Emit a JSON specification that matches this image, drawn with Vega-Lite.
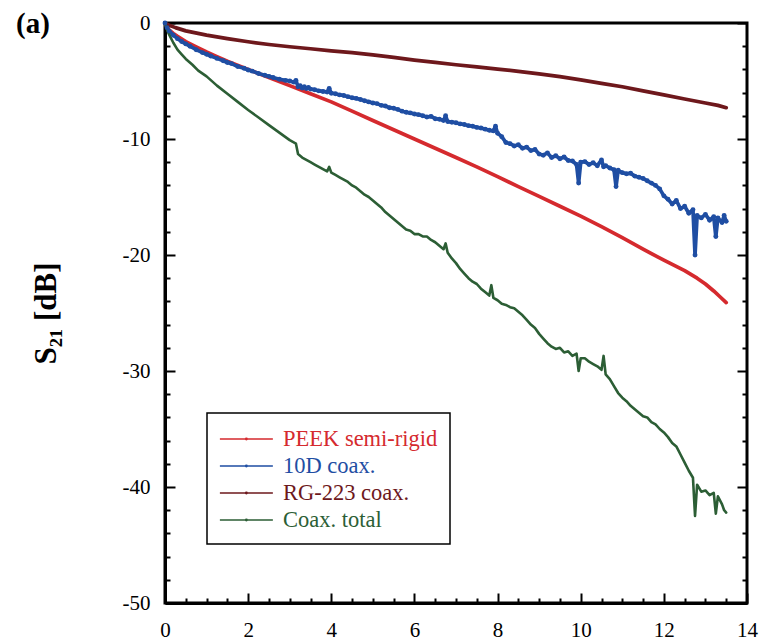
{
  "$schema": "https://vega.github.io/schema/vega-lite/v6.json",
  "width": 582,
  "height": 580,
  "autosize": "none",
  "padding": {"left": 165, "top": 23, "right": 17, "bottom": 38},
  "background": "white",
  "title": {"text": "(a)", "anchor": "start", "frame": "group", "dx": -149, "dy": 50, "offset": 0, "baseline": "alphabetic", "font": "Liberation Serif", "fontSize": 29, "fontWeight": "bold", "color": "black"},
  "config": {
    "view": {"stroke": "black", "strokeWidth": 3},
    "axis": {"labelFont": "Liberation Serif", "labelFontSize": 21, "labelColor": "black", "tickColor": "black", "domainColor": "black", "grid": false, "titleFont": "Liberation Serif", "titleColor": "black"}
  },
  "datasets": {
    "curves": [
      {"s": "PEEK semi-rigid", "x": 0, "y": 0},
      {"s": "PEEK semi-rigid", "x": 0.05, "y": -0.35},
      {"s": "PEEK semi-rigid", "x": 0.1, "y": -0.6},
      {"s": "PEEK semi-rigid", "x": 0.2, "y": -0.9},
      {"s": "PEEK semi-rigid", "x": 0.3, "y": -1.15},
      {"s": "PEEK semi-rigid", "x": 0.5, "y": -1.6},
      {"s": "PEEK semi-rigid", "x": 0.75, "y": -2.05},
      {"s": "PEEK semi-rigid", "x": 1, "y": -2.5},
      {"s": "PEEK semi-rigid", "x": 1.25, "y": -2.9},
      {"s": "PEEK semi-rigid", "x": 1.5, "y": -3.3},
      {"s": "PEEK semi-rigid", "x": 2, "y": -4.0},
      {"s": "PEEK semi-rigid", "x": 2.5, "y": -4.7},
      {"s": "PEEK semi-rigid", "x": 3, "y": -5.4},
      {"s": "PEEK semi-rigid", "x": 3.5, "y": -6.1},
      {"s": "PEEK semi-rigid", "x": 4, "y": -6.8},
      {"s": "PEEK semi-rigid", "x": 4.5, "y": -7.6},
      {"s": "PEEK semi-rigid", "x": 5, "y": -8.4},
      {"s": "PEEK semi-rigid", "x": 5.5, "y": -9.2},
      {"s": "PEEK semi-rigid", "x": 6, "y": -10.0},
      {"s": "PEEK semi-rigid", "x": 6.5, "y": -10.8},
      {"s": "PEEK semi-rigid", "x": 7, "y": -11.6},
      {"s": "PEEK semi-rigid", "x": 7.5, "y": -12.4},
      {"s": "PEEK semi-rigid", "x": 8, "y": -13.25},
      {"s": "PEEK semi-rigid", "x": 8.5, "y": -14.1},
      {"s": "PEEK semi-rigid", "x": 9, "y": -14.95},
      {"s": "PEEK semi-rigid", "x": 9.5, "y": -15.8},
      {"s": "PEEK semi-rigid", "x": 10, "y": -16.65},
      {"s": "PEEK semi-rigid", "x": 10.5, "y": -17.55},
      {"s": "PEEK semi-rigid", "x": 11, "y": -18.5},
      {"s": "PEEK semi-rigid", "x": 11.5, "y": -19.5},
      {"s": "PEEK semi-rigid", "x": 12, "y": -20.45},
      {"s": "PEEK semi-rigid", "x": 12.5, "y": -21.35},
      {"s": "PEEK semi-rigid", "x": 12.8, "y": -22.0},
      {"s": "PEEK semi-rigid", "x": 13, "y": -22.5},
      {"s": "PEEK semi-rigid", "x": 13.2, "y": -23.1},
      {"s": "PEEK semi-rigid", "x": 13.35, "y": -23.6},
      {"s": "PEEK semi-rigid", "x": 13.5, "y": -24.1},

      {"s": "10D coax.", "x": 0, "y": 0},
      {"s": "10D coax.", "x": 0.05, "y": -0.4},
      {"s": "10D coax.", "x": 0.1, "y": -0.7},
      {"s": "10D coax.", "x": 0.2, "y": -1.05},
      {"s": "10D coax.", "x": 0.3, "y": -1.35},
      {"s": "10D coax.", "x": 0.4, "y": -1.6},
      {"s": "10D coax.", "x": 0.5, "y": -1.8},
      {"s": "10D coax.", "x": 0.6, "y": -2.0},
      {"s": "10D coax.", "x": 0.75, "y": -2.3},
      {"s": "10D coax.", "x": 0.9, "y": -2.55},
      {"s": "10D coax.", "x": 1, "y": -2.7},
      {"s": "10D coax.", "x": 1.1, "y": -2.85},
      {"s": "10D coax.", "x": 1.25, "y": -3.05},
      {"s": "10D coax.", "x": 1.4, "y": -3.25},
      {"s": "10D coax.", "x": 1.5, "y": -3.4},
      {"s": "10D coax.", "x": 1.6, "y": -3.5},
      {"s": "10D coax.", "x": 1.75, "y": -3.75},
      {"s": "10D coax.", "x": 1.9, "y": -3.9},
      {"s": "10D coax.", "x": 2, "y": -4.05},
      {"s": "10D coax.", "x": 2.1, "y": -4.15},
      {"s": "10D coax.", "x": 2.25, "y": -4.35},
      {"s": "10D coax.", "x": 2.4, "y": -4.5},
      {"s": "10D coax.", "x": 2.5, "y": -4.6},
      {"s": "10D coax.", "x": 2.6, "y": -4.7},
      {"s": "10D coax.", "x": 2.75, "y": -4.85},
      {"s": "10D coax.", "x": 2.9, "y": -4.95},
      {"s": "10D coax.", "x": 3.0, "y": -5.0},
      {"s": "10D coax.", "x": 3.1, "y": -5.1},
      {"s": "10D coax.", "x": 3.15, "y": -4.95},
      {"s": "10D coax.", "x": 3.2, "y": -5.5},
      {"s": "10D coax.", "x": 3.25, "y": -5.4},
      {"s": "10D coax.", "x": 3.3, "y": -5.6},
      {"s": "10D coax.", "x": 3.35, "y": -5.5},
      {"s": "10D coax.", "x": 3.4, "y": -5.65},
      {"s": "10D coax.", "x": 3.45, "y": -5.55},
      {"s": "10D coax.", "x": 3.5, "y": -5.7},
      {"s": "10D coax.", "x": 3.6, "y": -5.75},
      {"s": "10D coax.", "x": 3.7, "y": -5.85},
      {"s": "10D coax.", "x": 3.8, "y": -5.9},
      {"s": "10D coax.", "x": 3.9, "y": -5.95},
      {"s": "10D coax.", "x": 3.95, "y": -5.65},
      {"s": "10D coax.", "x": 4.0, "y": -6.05},
      {"s": "10D coax.", "x": 4.1, "y": -6.1},
      {"s": "10D coax.", "x": 4.2, "y": -6.2},
      {"s": "10D coax.", "x": 4.3, "y": -6.25},
      {"s": "10D coax.", "x": 4.4, "y": -6.35},
      {"s": "10D coax.", "x": 4.5, "y": -6.45},
      {"s": "10D coax.", "x": 4.6, "y": -6.5},
      {"s": "10D coax.", "x": 4.7, "y": -6.6},
      {"s": "10D coax.", "x": 4.8, "y": -6.7},
      {"s": "10D coax.", "x": 4.9, "y": -6.8},
      {"s": "10D coax.", "x": 5.0, "y": -6.9},
      {"s": "10D coax.", "x": 5.1, "y": -6.95},
      {"s": "10D coax.", "x": 5.2, "y": -7.1},
      {"s": "10D coax.", "x": 5.3, "y": -7.15},
      {"s": "10D coax.", "x": 5.4, "y": -7.3},
      {"s": "10D coax.", "x": 5.5, "y": -7.35},
      {"s": "10D coax.", "x": 5.6, "y": -7.45},
      {"s": "10D coax.", "x": 5.7, "y": -7.6},
      {"s": "10D coax.", "x": 5.8, "y": -7.7},
      {"s": "10D coax.", "x": 5.9, "y": -7.75},
      {"s": "10D coax.", "x": 6.0, "y": -7.85},
      {"s": "10D coax.", "x": 6.1, "y": -7.9},
      {"s": "10D coax.", "x": 6.2, "y": -8.0},
      {"s": "10D coax.", "x": 6.3, "y": -8.1},
      {"s": "10D coax.", "x": 6.4, "y": -8.05},
      {"s": "10D coax.", "x": 6.5, "y": -8.25},
      {"s": "10D coax.", "x": 6.6, "y": -8.3},
      {"s": "10D coax.", "x": 6.7, "y": -8.4},
      {"s": "10D coax.", "x": 6.75, "y": -8.0},
      {"s": "10D coax.", "x": 6.8, "y": -8.5},
      {"s": "10D coax.", "x": 6.9, "y": -8.55},
      {"s": "10D coax.", "x": 7.0, "y": -8.6},
      {"s": "10D coax.", "x": 7.1, "y": -8.7},
      {"s": "10D coax.", "x": 7.2, "y": -8.75},
      {"s": "10D coax.", "x": 7.3, "y": -8.85},
      {"s": "10D coax.", "x": 7.4, "y": -8.9},
      {"s": "10D coax.", "x": 7.5, "y": -9.0},
      {"s": "10D coax.", "x": 7.6, "y": -9.05},
      {"s": "10D coax.", "x": 7.7, "y": -9.15},
      {"s": "10D coax.", "x": 7.8, "y": -9.25},
      {"s": "10D coax.", "x": 7.9, "y": -9.3},
      {"s": "10D coax.", "x": 7.95, "y": -8.9},
      {"s": "10D coax.", "x": 8.0, "y": -9.5},
      {"s": "10D coax.", "x": 8.1, "y": -9.8},
      {"s": "10D coax.", "x": 8.2, "y": -10.3},
      {"s": "10D coax.", "x": 8.3, "y": -10.4},
      {"s": "10D coax.", "x": 8.4, "y": -10.6},
      {"s": "10D coax.", "x": 8.5, "y": -10.5},
      {"s": "10D coax.", "x": 8.6, "y": -10.8},
      {"s": "10D coax.", "x": 8.7, "y": -10.7},
      {"s": "10D coax.", "x": 8.8, "y": -11.0},
      {"s": "10D coax.", "x": 8.9, "y": -10.9},
      {"s": "10D coax.", "x": 9.0, "y": -11.3},
      {"s": "10D coax.", "x": 9.1, "y": -11.4},
      {"s": "10D coax.", "x": 9.2, "y": -11.2},
      {"s": "10D coax.", "x": 9.3, "y": -11.6},
      {"s": "10D coax.", "x": 9.4, "y": -11.45},
      {"s": "10D coax.", "x": 9.5, "y": -11.7},
      {"s": "10D coax.", "x": 9.6, "y": -11.55},
      {"s": "10D coax.", "x": 9.7, "y": -11.85},
      {"s": "10D coax.", "x": 9.8, "y": -11.9},
      {"s": "10D coax.", "x": 9.9, "y": -12.2},
      {"s": "10D coax.", "x": 9.95, "y": -13.8},
      {"s": "10D coax.", "x": 10.0, "y": -12.0},
      {"s": "10D coax.", "x": 10.1, "y": -11.95},
      {"s": "10D coax.", "x": 10.2, "y": -12.2},
      {"s": "10D coax.", "x": 10.3, "y": -12.05},
      {"s": "10D coax.", "x": 10.4, "y": -12.3},
      {"s": "10D coax.", "x": 10.5, "y": -11.8},
      {"s": "10D coax.", "x": 10.55, "y": -12.4},
      {"s": "10D coax.", "x": 10.6, "y": -12.3},
      {"s": "10D coax.", "x": 10.7, "y": -12.5},
      {"s": "10D coax.", "x": 10.8, "y": -12.65},
      {"s": "10D coax.", "x": 10.85, "y": -14.1},
      {"s": "10D coax.", "x": 10.9, "y": -12.7},
      {"s": "10D coax.", "x": 11.0, "y": -12.9},
      {"s": "10D coax.", "x": 11.1, "y": -13.0},
      {"s": "10D coax.", "x": 11.2, "y": -12.95},
      {"s": "10D coax.", "x": 11.3, "y": -13.2},
      {"s": "10D coax.", "x": 11.4, "y": -13.3},
      {"s": "10D coax.", "x": 11.5, "y": -13.4},
      {"s": "10D coax.", "x": 11.6, "y": -13.6},
      {"s": "10D coax.", "x": 11.7, "y": -13.8},
      {"s": "10D coax.", "x": 11.8, "y": -14.0},
      {"s": "10D coax.", "x": 11.9, "y": -14.3},
      {"s": "10D coax.", "x": 12.0, "y": -14.9},
      {"s": "10D coax.", "x": 12.1, "y": -15.2},
      {"s": "10D coax.", "x": 12.2, "y": -15.6},
      {"s": "10D coax.", "x": 12.3, "y": -15.3},
      {"s": "10D coax.", "x": 12.4, "y": -16.0},
      {"s": "10D coax.", "x": 12.5, "y": -15.8},
      {"s": "10D coax.", "x": 12.6, "y": -16.4},
      {"s": "10D coax.", "x": 12.7, "y": -16.1},
      {"s": "10D coax.", "x": 12.75, "y": -20.0},
      {"s": "10D coax.", "x": 12.8, "y": -16.6},
      {"s": "10D coax.", "x": 12.9, "y": -16.8},
      {"s": "10D coax.", "x": 13.0, "y": -16.5},
      {"s": "10D coax.", "x": 13.1, "y": -17.0},
      {"s": "10D coax.", "x": 13.2, "y": -16.7},
      {"s": "10D coax.", "x": 13.25, "y": -18.4},
      {"s": "10D coax.", "x": 13.3, "y": -16.8},
      {"s": "10D coax.", "x": 13.4, "y": -17.2},
      {"s": "10D coax.", "x": 13.45, "y": -16.6},
      {"s": "10D coax.", "x": 13.5, "y": -17.1},

      {"s": "RG-223 coax.", "x": 0, "y": 0},
      {"s": "RG-223 coax.", "x": 0.1, "y": -0.2},
      {"s": "RG-223 coax.", "x": 0.25, "y": -0.4},
      {"s": "RG-223 coax.", "x": 0.5, "y": -0.68},
      {"s": "RG-223 coax.", "x": 1, "y": -1.05},
      {"s": "RG-223 coax.", "x": 1.5, "y": -1.35},
      {"s": "RG-223 coax.", "x": 2, "y": -1.62},
      {"s": "RG-223 coax.", "x": 2.5, "y": -1.85},
      {"s": "RG-223 coax.", "x": 3, "y": -2.05},
      {"s": "RG-223 coax.", "x": 3.5, "y": -2.22},
      {"s": "RG-223 coax.", "x": 4, "y": -2.4},
      {"s": "RG-223 coax.", "x": 4.5, "y": -2.55},
      {"s": "RG-223 coax.", "x": 5, "y": -2.75},
      {"s": "RG-223 coax.", "x": 5.5, "y": -2.97},
      {"s": "RG-223 coax.", "x": 6, "y": -3.2},
      {"s": "RG-223 coax.", "x": 6.5, "y": -3.4},
      {"s": "RG-223 coax.", "x": 7, "y": -3.6},
      {"s": "RG-223 coax.", "x": 7.5, "y": -3.78},
      {"s": "RG-223 coax.", "x": 8, "y": -3.97},
      {"s": "RG-223 coax.", "x": 8.5, "y": -4.17},
      {"s": "RG-223 coax.", "x": 9, "y": -4.38},
      {"s": "RG-223 coax.", "x": 9.5, "y": -4.62},
      {"s": "RG-223 coax.", "x": 10, "y": -4.9},
      {"s": "RG-223 coax.", "x": 10.5, "y": -5.2},
      {"s": "RG-223 coax.", "x": 11, "y": -5.5},
      {"s": "RG-223 coax.", "x": 11.5, "y": -5.85},
      {"s": "RG-223 coax.", "x": 12, "y": -6.2},
      {"s": "RG-223 coax.", "x": 12.5, "y": -6.55},
      {"s": "RG-223 coax.", "x": 13, "y": -6.9},
      {"s": "RG-223 coax.", "x": 13.3, "y": -7.1},
      {"s": "RG-223 coax.", "x": 13.5, "y": -7.3},

      {"s": "Coax. total", "x": 0, "y": 0},
      {"s": "Coax. total", "x": 0.05, "y": -0.6},
      {"s": "Coax. total", "x": 0.1, "y": -1.0},
      {"s": "Coax. total", "x": 0.2, "y": -1.7},
      {"s": "Coax. total", "x": 0.3, "y": -2.3},
      {"s": "Coax. total", "x": 0.4, "y": -2.7},
      {"s": "Coax. total", "x": 0.5, "y": -3.1},
      {"s": "Coax. total", "x": 0.66, "y": -3.6},
      {"s": "Coax. total", "x": 0.8, "y": -4.1},
      {"s": "Coax. total", "x": 1.0, "y": -4.6},
      {"s": "Coax. total", "x": 1.25, "y": -5.4},
      {"s": "Coax. total", "x": 1.5, "y": -6.1},
      {"s": "Coax. total", "x": 1.75, "y": -6.8},
      {"s": "Coax. total", "x": 2.0, "y": -7.5},
      {"s": "Coax. total", "x": 2.25, "y": -8.15},
      {"s": "Coax. total", "x": 2.5, "y": -8.8},
      {"s": "Coax. total", "x": 2.75, "y": -9.45},
      {"s": "Coax. total", "x": 3.0, "y": -10.1},
      {"s": "Coax. total", "x": 3.15, "y": -10.4},
      {"s": "Coax. total", "x": 3.2, "y": -11.3},
      {"s": "Coax. total", "x": 3.3, "y": -11.6},
      {"s": "Coax. total", "x": 3.4, "y": -11.8},
      {"s": "Coax. total", "x": 3.5, "y": -12.0},
      {"s": "Coax. total", "x": 3.6, "y": -12.2},
      {"s": "Coax. total", "x": 3.7, "y": -12.4},
      {"s": "Coax. total", "x": 3.8, "y": -12.6},
      {"s": "Coax. total", "x": 3.9, "y": -12.8},
      {"s": "Coax. total", "x": 3.95, "y": -12.4},
      {"s": "Coax. total", "x": 4.0, "y": -12.9},
      {"s": "Coax. total", "x": 4.1, "y": -13.1},
      {"s": "Coax. total", "x": 4.2, "y": -13.3},
      {"s": "Coax. total", "x": 4.3, "y": -13.5},
      {"s": "Coax. total", "x": 4.4, "y": -13.7},
      {"s": "Coax. total", "x": 4.5, "y": -14.0},
      {"s": "Coax. total", "x": 4.6, "y": -14.2},
      {"s": "Coax. total", "x": 4.7, "y": -14.5},
      {"s": "Coax. total", "x": 4.8, "y": -14.8},
      {"s": "Coax. total", "x": 4.9, "y": -15.0},
      {"s": "Coax. total", "x": 5.0, "y": -15.3},
      {"s": "Coax. total", "x": 5.1, "y": -15.6},
      {"s": "Coax. total", "x": 5.2, "y": -15.9},
      {"s": "Coax. total", "x": 5.3, "y": -16.3},
      {"s": "Coax. total", "x": 5.4, "y": -16.6},
      {"s": "Coax. total", "x": 5.5, "y": -16.9},
      {"s": "Coax. total", "x": 5.6, "y": -17.2},
      {"s": "Coax. total", "x": 5.7, "y": -17.5},
      {"s": "Coax. total", "x": 5.8, "y": -17.8},
      {"s": "Coax. total", "x": 5.9, "y": -17.9},
      {"s": "Coax. total", "x": 6.0, "y": -18.2},
      {"s": "Coax. total", "x": 6.1, "y": -18.2},
      {"s": "Coax. total", "x": 6.2, "y": -18.4},
      {"s": "Coax. total", "x": 6.3, "y": -18.4},
      {"s": "Coax. total", "x": 6.4, "y": -18.7},
      {"s": "Coax. total", "x": 6.5, "y": -18.9},
      {"s": "Coax. total", "x": 6.6, "y": -19.2},
      {"s": "Coax. total", "x": 6.7, "y": -19.5},
      {"s": "Coax. total", "x": 6.75, "y": -19.0},
      {"s": "Coax. total", "x": 6.8, "y": -19.8},
      {"s": "Coax. total", "x": 6.9, "y": -20.3},
      {"s": "Coax. total", "x": 7.0, "y": -20.7},
      {"s": "Coax. total", "x": 7.1, "y": -21.2},
      {"s": "Coax. total", "x": 7.2, "y": -21.6},
      {"s": "Coax. total", "x": 7.3, "y": -22.0},
      {"s": "Coax. total", "x": 7.4, "y": -22.3},
      {"s": "Coax. total", "x": 7.5, "y": -22.5},
      {"s": "Coax. total", "x": 7.6, "y": -22.9},
      {"s": "Coax. total", "x": 7.7, "y": -23.2},
      {"s": "Coax. total", "x": 7.8, "y": -23.5},
      {"s": "Coax. total", "x": 7.85, "y": -22.6},
      {"s": "Coax. total", "x": 7.9, "y": -23.7},
      {"s": "Coax. total", "x": 8.0, "y": -23.9},
      {"s": "Coax. total", "x": 8.1, "y": -24.2},
      {"s": "Coax. total", "x": 8.2, "y": -24.3},
      {"s": "Coax. total", "x": 8.3, "y": -24.5},
      {"s": "Coax. total", "x": 8.4, "y": -24.6},
      {"s": "Coax. total", "x": 8.5, "y": -24.9},
      {"s": "Coax. total", "x": 8.6, "y": -25.2},
      {"s": "Coax. total", "x": 8.7, "y": -25.6},
      {"s": "Coax. total", "x": 8.8, "y": -26.0},
      {"s": "Coax. total", "x": 8.9, "y": -26.3},
      {"s": "Coax. total", "x": 9.0, "y": -26.8},
      {"s": "Coax. total", "x": 9.1, "y": -27.2},
      {"s": "Coax. total", "x": 9.2, "y": -27.6},
      {"s": "Coax. total", "x": 9.3, "y": -27.9},
      {"s": "Coax. total", "x": 9.4, "y": -28.1},
      {"s": "Coax. total", "x": 9.5, "y": -28.0},
      {"s": "Coax. total", "x": 9.6, "y": -28.4},
      {"s": "Coax. total", "x": 9.7, "y": -28.3},
      {"s": "Coax. total", "x": 9.8, "y": -28.7},
      {"s": "Coax. total", "x": 9.9, "y": -28.5},
      {"s": "Coax. total", "x": 9.95, "y": -30.0},
      {"s": "Coax. total", "x": 10.0, "y": -28.9},
      {"s": "Coax. total", "x": 10.1, "y": -28.9},
      {"s": "Coax. total", "x": 10.2, "y": -29.2},
      {"s": "Coax. total", "x": 10.3, "y": -29.4},
      {"s": "Coax. total", "x": 10.4, "y": -29.6},
      {"s": "Coax. total", "x": 10.5, "y": -29.9},
      {"s": "Coax. total", "x": 10.55, "y": -28.7},
      {"s": "Coax. total", "x": 10.6, "y": -30.3},
      {"s": "Coax. total", "x": 10.7, "y": -30.7},
      {"s": "Coax. total", "x": 10.8, "y": -31.3},
      {"s": "Coax. total", "x": 10.9, "y": -31.9},
      {"s": "Coax. total", "x": 11.0, "y": -32.3},
      {"s": "Coax. total", "x": 11.1, "y": -32.6},
      {"s": "Coax. total", "x": 11.2, "y": -33.0},
      {"s": "Coax. total", "x": 11.3, "y": -33.3},
      {"s": "Coax. total", "x": 11.4, "y": -33.6},
      {"s": "Coax. total", "x": 11.5, "y": -33.9},
      {"s": "Coax. total", "x": 11.6, "y": -34.0},
      {"s": "Coax. total", "x": 11.7, "y": -34.4},
      {"s": "Coax. total", "x": 11.8, "y": -34.6},
      {"s": "Coax. total", "x": 11.9, "y": -35.0},
      {"s": "Coax. total", "x": 12.0, "y": -35.3},
      {"s": "Coax. total", "x": 12.1, "y": -35.7},
      {"s": "Coax. total", "x": 12.2, "y": -36.2},
      {"s": "Coax. total", "x": 12.3, "y": -36.5},
      {"s": "Coax. total", "x": 12.4, "y": -37.2},
      {"s": "Coax. total", "x": 12.5, "y": -37.9},
      {"s": "Coax. total", "x": 12.6, "y": -38.6},
      {"s": "Coax. total", "x": 12.7, "y": -39.2},
      {"s": "Coax. total", "x": 12.75, "y": -42.5},
      {"s": "Coax. total", "x": 12.8, "y": -39.8},
      {"s": "Coax. total", "x": 12.9, "y": -40.4},
      {"s": "Coax. total", "x": 13.0, "y": -40.3},
      {"s": "Coax. total", "x": 13.1, "y": -40.7},
      {"s": "Coax. total", "x": 13.2, "y": -40.5},
      {"s": "Coax. total", "x": 13.25, "y": -42.3},
      {"s": "Coax. total", "x": 13.3, "y": -40.8},
      {"s": "Coax. total", "x": 13.4, "y": -41.5},
      {"s": "Coax. total", "x": 13.45, "y": -42.0},
      {"s": "Coax. total", "x": 13.5, "y": -42.2}
    ],
    "anchor": [{"x": 0, "y": 0}]
  },
  "layer": [
    {
      "data": {"name": "curves"},
      "transform": [{"filter": "datum.s != 'Coax. total'"}],
      "mark": {"type": "line", "strokeJoin": "round", "strokeCap": "round", "strokeWidth": 3.7},
      "encoding": {
        "x": {"field": "x", "type": "quantitative", "scale": {"domain": [0, 14], "nice": false, "zero": false},
          "axis": {"orient": "bottom", "values": [0, 2, 4, 6, 8, 10, 12, 14], "tickSize": -10, "tickWidth": 2, "domainWidth": 3, "labelPadding": 26, "labelFlush": false, "title": null}},
        "y": {"field": "y", "type": "quantitative", "scale": {"domain": [-50, 0], "nice": false, "zero": false},
          "axis": {"orient": "left", "values": [0, -10, -20, -30, -40, -50], "tickSize": -10, "tickWidth": 2, "domainWidth": 3, "labelPadding": 25, "labelFlush": false,
            "labelExpr": "datum.value == 0 ? '0' : '-' + abs(datum.value)",
            "title": "S₂₁ [dB]", "titleFontSize": 31, "titleFontWeight": "bold", "titleAngle": -90, "titleX": -110, "titleY": 290, "titleAlign": "center", "titleBaseline": "alphabetic"}},
        "color": {"field": "s", "type": "nominal",
          "scale": {"domain": ["PEEK semi-rigid", "10D coax.", "RG-223 coax.", "Coax. total"], "range": ["#d52a2e", "#1f4ea3", "#6e181c", "#2c5e35"]},
          "legend": {"title": null, "orient": "none", "legendX": 42, "legendY": 390, "padding": 12, "strokeColor": "black",
            "symbolType": "M-2.5,0H1.5M-0.56,0A0.06,0.06 0 1,0 -0.44,0A0.06,0.06 0 1,0 -0.56,0", "symbolSize": 702, "symbolStrokeWidth": 1.4,
            "symbolOffset": 20, "labelOffset": 16, "rowPadding": 1, "labelFont": "Liberation Serif", "labelFontSize": 22.5, "labelLimit": 400,
            "encode": {"labels": {"update": {"fill": {"scale": "color", "field": "value"}}}, "symbols": {"update": {"strokeWidth": {"value": 1.4}}}, "legend": {"update": {"strokeWidth": {"value": 1.5}}}}}}
      }
    },
    {
      "data": {"name": "curves"},
      "transform": [{"filter": "datum.s == 'Coax. total'"}],
      "mark": {"type": "line", "strokeJoin": "round", "strokeCap": "round", "strokeWidth": 2.6},
      "encoding": {
        "x": {"field": "x", "type": "quantitative", "axis": null},
        "y": {"field": "y", "type": "quantitative", "axis": null},
        "color": {"field": "s", "type": "nominal"}
      }
    },
    {
      "data": {"name": "curves"},
      "transform": [{"filter": "datum.s == '10D coax.'"}],
      "mark": {"type": "point", "filled": true, "size": 24, "opacity": 1, "color": "#1f4ea3"},
      "encoding": {
        "x": {"field": "x", "type": "quantitative", "axis": {"orient": "bottom", "values": [0.5, 1, 1.5, 2.5, 3, 3.5, 4.5, 5, 5.5, 6.5, 7, 7.5, 8.5, 9, 9.5, 10.5, 11, 11.5, 12.5, 13, 13.5], "tickSize": -5, "tickWidth": 2, "labels": false, "domain": false, "title": null}},
        "y": {"field": "y", "type": "quantitative", "axis": {"orient": "left", "values": [-2, -4, -6, -8, -12, -14, -16, -18, -22, -24, -26, -28, -32, -34, -36, -38, -42, -44, -46, -48], "tickSize": -5, "tickWidth": 2, "labels": false, "domain": false, "title": null}}
      }
    },
    {
      "data": {"name": "anchor"},
      "mark": {"type": "point", "opacity": 0},
      "encoding": {
        "x": {"field": "x", "type": "quantitative", "axis": null},
        "y": {"field": "y", "type": "quantitative", "axis": {"orient": "right", "values": [0, -10, -20, -30, -40, -50], "tickSize": -10, "tickWidth": 2, "labels": false, "domain": false, "title": null}}
      }
    },
    {
      "data": {"name": "anchor"},
      "mark": {"type": "point", "opacity": 0},
      "encoding": {
        "x": {"field": "x", "type": "quantitative", "axis": null},
        "y": {"field": "y", "type": "quantitative", "axis": {"orient": "right", "values": [-2, -4, -6, -8, -12, -14, -16, -18, -22, -24, -26, -28, -32, -34, -36, -38, -42, -44, -46, -48], "tickSize": -5, "tickWidth": 2, "labels": false, "domain": false, "title": null}}
      }
    }
  ],
  "resolve": {"axis": {"x": "independent", "y": "independent"}}
}
